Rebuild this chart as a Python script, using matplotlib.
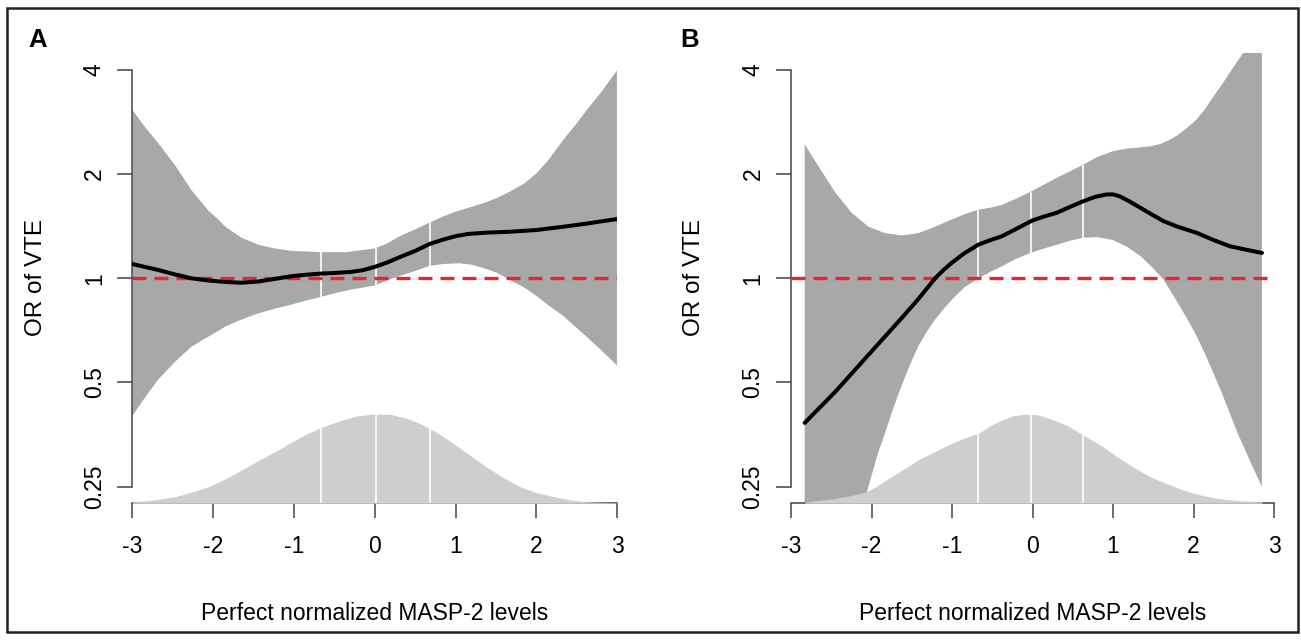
import numpy as np
import matplotlib.pyplot as plt
from matplotlib.patches import Rectangle

plt.rcParams['font.family'] = ['Liberation Sans', 'DejaVu Sans']
plt.rcParams['axes.unicode_minus'] = False

# ---------------------------------------------------------------
# Data (x = normalized MASP-2, y = OR of VTE)
# ---------------------------------------------------------------
# Panel A
a_fit_x = [-3.0, -2.68, -2.5, -2.27, -2.05, -1.85, -1.65, -1.44, -1.25, -1.03,
           -0.85, -0.66, -0.5, -0.3, -0.15, 0.0, 0.15, 0.3, 0.5, 0.68, 0.85,
           1.01, 1.15, 1.38, 1.67, 2.0, 2.33, 2.62, 3.0]
a_fit = [1.10, 1.057, 1.03, 1.0, 0.985, 0.976, 0.971, 0.979, 0.995, 1.014,
         1.024, 1.032, 1.036, 1.043, 1.055, 1.079, 1.11, 1.149, 1.20, 1.257, 1.295,
         1.325, 1.343, 1.355, 1.363, 1.379, 1.409, 1.439, 1.484]

a_hi_x = [-3.0, -2.85, -2.68, -2.47, -2.27, -2.06, -1.95, -1.85, -1.65, -1.44,
          -1.24, -1.03, -0.85, -0.66, -0.35, 0.0, 0.15, 0.3, 0.5, 0.68, 0.85,
          1.01, 1.2, 1.38, 1.52, 1.67, 1.85, 2.0, 2.15, 2.33, 2.48, 2.62, 2.8, 3.0]
a_hi = [3.07, 2.75, 2.46, 2.12, 1.80, 1.57, 1.49, 1.41, 1.31, 1.25,
        1.22, 1.20, 1.195, 1.19, 1.19, 1.22, 1.26, 1.32, 1.385, 1.45, 1.51,
        1.56, 1.61, 1.66, 1.71, 1.78, 1.88, 2.01, 2.2, 2.51, 2.77, 3.06, 3.45, 4.0]

a_lo_x = [-3.0, -2.85, -2.68, -2.47, -2.27, -2.06, -1.85, -1.65, -1.44, -1.25,
          -1.03, -0.85, -0.66, -0.5, -0.3, -0.15, 0.0, 0.15, 0.3, 0.5, 0.68,
          0.85, 1.05, 1.2, 1.38, 1.52, 1.67, 1.85, 2.0, 2.15, 2.33, 2.48, 2.62,
          2.8, 3.0]
a_lo = [0.40, 0.45, 0.51, 0.574, 0.634, 0.678, 0.725, 0.76, 0.792, 0.815,
        0.84, 0.862, 0.884, 0.905, 0.927, 0.94, 0.953, 0.985, 1.014, 1.05, 1.087,
        1.10, 1.105, 1.095, 1.064, 1.035, 0.989, 0.94, 0.889, 0.835, 0.779, 0.725,
        0.678, 0.62, 0.559]

a_den_x = [-3.0, -2.75, -2.47, -2.27, -2.06, -1.85, -1.65, -1.45, -1.24, -1.03,
           -0.83, -0.62, -0.41, -0.22, -0.04, 0.19, 0.38, 0.56, 0.77, 0.97,
           1.17, 1.38, 1.59, 1.80, 2.0, 2.21, 2.42, 2.62, 2.8, 3.0]
a_den = [0.006, 0.014, 0.030, 0.05, 0.074, 0.11, 0.149, 0.19, 0.231, 0.275,
         0.314, 0.347, 0.373, 0.392, 0.400, 0.400, 0.383, 0.358, 0.318, 0.269,
         0.217, 0.164, 0.115, 0.074, 0.048, 0.030, 0.015, 0.007, 0.004, 0.002]
a_quart = [-0.66, 0.01, 0.68]

# Panel B
b_fit_x = [-2.83, -2.45, -2.04, -1.62, -1.42, -1.21, -1.1, -1.0, -0.85, -0.67,
           -0.52, -0.38, -0.2, 0.0, 0.15, 0.30, 0.47, 0.63, 0.78, 0.92, 1.0,
           1.08, 1.2, 1.34, 1.48, 1.63, 1.8, 2.04, 2.25, 2.45, 2.65, 2.85]
b_fit = [0.382, 0.47, 0.60, 0.77, 0.87, 1.0, 1.06, 1.11, 1.18, 1.252,
         1.29, 1.323, 1.39, 1.47, 1.51, 1.546, 1.61, 1.67, 1.72, 1.747, 1.748,
         1.727, 1.67, 1.599, 1.53, 1.462, 1.41, 1.353, 1.29, 1.238, 1.21, 1.184]

b_hi_x = [-2.83, -2.66, -2.45, -2.25, -2.04, -1.83, -1.62, -1.42, -1.21, -1.0,
          -0.85, -0.67, -0.52, -0.38, -0.2, 0.0, 0.15, 0.30, 0.47, 0.63, 0.8,
          1.0, 1.17, 1.34, 1.48, 1.6, 1.7, 1.8, 1.92, 2.04, 2.15, 2.25, 2.35,
          2.45, 2.62, 2.85]
b_hi = [2.44, 2.11, 1.77, 1.55, 1.41, 1.35, 1.33, 1.35, 1.41, 1.48,
        1.53, 1.58, 1.60, 1.63, 1.70, 1.79, 1.87, 1.95, 2.04, 2.13, 2.24,
        2.33, 2.37, 2.39, 2.41, 2.45, 2.51, 2.59, 2.72, 2.88, 3.1, 3.36, 3.62,
        3.93, 4.49, 6.5]

b_lo_x = [-2.83, -2.45, -2.2, -2.06, -1.92, -1.83, -1.75, -1.67, -1.58, -1.5,
          -1.42, -1.32, -1.21, -1.1, -1.0, -0.85, -0.67, -0.52, -0.38, -0.2, 0.0,
          0.15, 0.30, 0.47, 0.63, 0.8, 1.0, 1.17, 1.34, 1.48, 1.63, 1.73, 1.83,
          1.93, 2.04, 2.15, 2.25, 2.35, 2.45, 2.55, 2.66, 2.75, 2.85]
b_lo = [0.088, 0.134, 0.184, 0.24, 0.312, 0.358, 0.408, 0.46, 0.521, 0.578,
        0.635, 0.697, 0.76, 0.818, 0.868, 0.94, 1.0, 1.045, 1.083, 1.14, 1.19,
        1.22, 1.25, 1.285, 1.31, 1.315, 1.29, 1.235, 1.16, 1.08, 0.99, 0.907, 0.83,
        0.758, 0.68, 0.60, 0.53, 0.467, 0.408, 0.356, 0.312, 0.28, 0.25]

b_den_x = [-2.83, -2.45, -2.25, -2.06, -1.9, -1.75, -1.58, -1.42, -1.2, -1.0,
           -0.83, -0.67, -0.52, -0.38, -0.25, -0.1, 0.05, 0.22, 0.42, 0.63,
           0.85, 1.05, 1.25, 1.46, 1.67, 1.87, 2.08, 2.29, 2.55, 2.85]
b_den = [0.006, 0.022, 0.035, 0.052, 0.085, 0.12, 0.158, 0.195, 0.235, 0.27,
         0.295, 0.315, 0.35, 0.374, 0.392, 0.40, 0.398, 0.38, 0.352, 0.307,
         0.26, 0.209, 0.163, 0.12, 0.088, 0.06, 0.038, 0.022, 0.012, 0.006]
b_quart = [-0.68, -0.02, 0.63]

y_ticks = [0.25, 0.5, 1, 2, 4]
y_ticklabels = ['0.25', '0.5', '1', '2', '4']
x_ticks = [-3, -2, -1, 0, 1, 2, 3]

# ---------------------------------------------------------------
W, H = 1301, 642
fig = plt.figure(figsize=(W / 100, H / 100), dpi=100)

band_col = '#a8a8a8'
den_col = '#cecece'
axis_col = '#444444'


def draw_panel(ax, fit_x, fit, hi_x, hi, lo_x, lo, den_x, den, quart):
    ax.set_yscale('log', base=2)
    ax.set_xlim(-3, 3)
    ax.set_ylim(2 ** -2.16, 2 ** 2.16)

    # confidence band
    ax.fill(np.r_[hi_x, lo_x[::-1]], np.r_[hi, lo[::-1]],
            color=band_col, lw=0, zorder=1)
    for q in quart:
        ax.vlines(q, np.interp(q, lo_x, lo), np.interp(q, hi_x, hi),
                  color='white', lw=1.2, zorder=2)
    ax.axhline(1, color='#e8262d', lw=2.4, dashes=(4.2, 2.4), zorder=3)
    ax.plot(fit_x, fit, color='black', lw=2.9, zorder=4,
            solid_capstyle='round', solid_joinstyle='round')

    # distribution of the exposure
    ax2 = ax.twinx()
    ax2.set_ylim(0, 2.02)
    ax2.fill_between(den_x, 0, den, color=den_col, lw=0)
    for q in quart:
        ax2.vlines(q, 0, np.interp(q, den_x, den), color='white', lw=1.2)
    ax2.axis('off')

    for s in ['top', 'right']:
        ax.spines[s].set_visible(False)
    ax.spines['left'].set_bounds(0.25, 4)
    ax.spines['bottom'].set_bounds(-3, 3)
    for s in ['left', 'bottom']:
        ax.spines[s].set_color(axis_col)
        ax.spines[s].set_linewidth(1.1)
    ax.minorticks_off()
    ax.set_yticks(y_ticks)
    ax.set_yticklabels(y_ticklabels, rotation=90, va='center')
    ax.set_xticks(x_ticks)
    ax.set_xticklabels([str(t) for t in x_ticks])
    ax.tick_params(axis='both', direction='out', length=11, width=1.1,
                   color=axis_col, labelsize=16.5)
    ax.tick_params(axis='y', pad=8)
    ax.tick_params(axis='x', pad=12)
    ax.patch.set_visible(False)


y0 = (H - 503.3) / H
axA = fig.add_axes([132.3 / W, y0, 485 / W, 450 / H])
axB = fig.add_axes([791 / W, y0, 483 / W, 450 / H])

draw_panel(axA, a_fit_x, a_fit, a_hi_x, a_hi, a_lo_x, a_lo,
           a_den_x, a_den, a_quart)
draw_panel(axB, b_fit_x, b_fit, b_hi_x, b_hi, b_lo_x, b_lo,
           b_den_x, b_den, b_quart)

# axis titles
for xc_ylab, xc_xlab in [(35.5, 375), (694, 1032.5)]:
    fig.text(xc_ylab / W, 1 - 277 / H, 'OR of VTE', rotation=90,
             ha='center', va='center', fontsize=17.5)
    fig.text(xc_xlab / W, 1 - 614 / H, 'Perfect normalized MASP-2 levels',
             ha='center', va='center', fontsize=16.5)

# panel letters
fig.text(28 / W, 1 - 47 / H, 'A', fontsize=18.5, fontweight='bold',
         ha='left', va='baseline')
fig.text(680 / W, 1 - 47 / H, 'B', fontsize=18.5, fontweight='bold',
         ha='left', va='baseline')

# outer frame
fig.patches.append(Rectangle((7 / W, 1 - 632 / H), 1291 / W, 624 / H,
                             transform=fig.transFigure, fill=False,
                             edgecolor='#222222', lw=1.8))

fig.savefig('out.png', dpi=100)
